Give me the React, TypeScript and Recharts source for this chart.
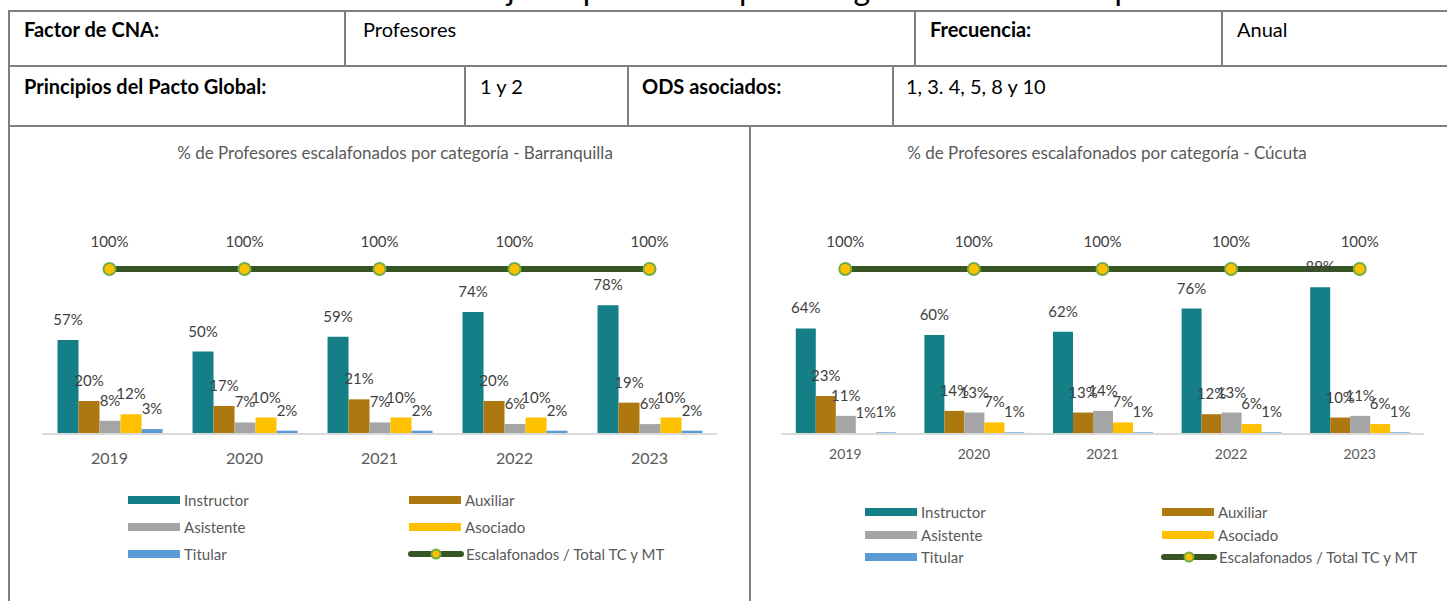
import { ComposedChart, Bar, Line, XAxis, YAxis, LabelList } from 'recharts';

const years = ['2019', '2020', '2021', '2022', '2023'];

// Barranquilla (%)
const baqInstructor = [57, 50, 59, 74, 78];
const baqAuxiliar = [20, 17, 21, 20, 19];
const baqAsistente = [8, 7, 7, 6, 6];
const baqAsociado = [12, 10, 10, 10, 10];
const baqTitular = [3, 2, 2, 2, 2];
const baqEscalafonados = [100, 100, 100, 100, 100];

// Cúcuta (%)
const cucInstructor = [64, 60, 62, 76, 89];
const cucAuxiliar = [23, 14, 13, 12, 10];
const cucAsistente = [11, 13, 14, 13, 11];
const cucAsociado = [0.6, 7, 7, 6, 6];
const cucTitular = [1, 1, 1, 1, 1];
const cucEscalafonados = [100, 100, 100, 100, 100];

const seriesNames = ['Instructor', 'Auxiliar', 'Asistente', 'Asociado', 'Titular'];
const lineName = 'Escalafonados / Total TC y MT';

const COLORS = {
  Instructor: '#157F87',
  Auxiliar: '#AE7811',
  Asistente: '#A5A5A5',
  Asociado: '#FFC000',
  Titular: '#5B9BD5',
};
const LINE_COLOR = '#375623';
const DOT_STROKE = '#70AD47';
const FONT = 'Lato, "Open Sans", sans-serif';
const BORDER = '#7F7F7F';

function buildData(cols: number[][], line: number[]) {
  return years.map((y, i) => ({
    year: y,
    Instructor: cols[0][i],
    Auxiliar: cols[1][i],
    Asistente: cols[2][i],
    Asociado: cols[3][i],
    Titular: cols[4][i],
    total: line[i],
  }));
}

const baqData = buildData([baqInstructor, baqAuxiliar, baqAsistente, baqAsociado, baqTitular], baqEscalafonados);
const cucData = buildData([cucInstructor, cucAuxiliar, cucAsistente, cucAsociado, cucTitular], cucEscalafonados);

const pct = (v: any) => `${Math.round(Number(v))}%`;

interface PanelProps {
  data: any[];
  left: number;
  width: number;
  margin: { top: number; right: number; bottom: number; left: number };
  tickSize: number;
  tickMargin: number;
}

function Panel({ data, left, width, margin, tickSize, tickMargin }: PanelProps) {
  return (
    <div style={{ position: 'absolute', left, top: 126 }}>
      <ComposedChart width={width} height={475} data={data} margin={margin} barCategoryGap="11.5%" barGap={0}>
        <XAxis
          dataKey="year"
          height={30}
          axisLine={{ stroke: '#D9D9D9', strokeWidth: 2 }}
          tickLine={false}
          tickSize={0}
          tickMargin={tickMargin}
          tick={{ fill: '#595959', fontSize: tickSize, fontFamily: FONT }}
        />
        <YAxis hide domain={[0, 140]} />
        {seriesNames.map((s) => (
          <Bar key={s} dataKey={s} fill={(COLORS as any)[s]} isAnimationActive={false}>
            <LabelList
              dataKey={s}
              position="top"
              offset={15}
              formatter={pct}
              style={{ fill: '#404040', fontSize: 15, fontFamily: FONT }}
            />
          </Bar>
        ))}
        <Line
          dataKey="total"
          type="linear"
          stroke={LINE_COLOR}
          strokeWidth={6}
          dot={{ r: 6, fill: '#FFC000', stroke: DOT_STROKE, strokeWidth: 2 }}
          activeDot={false}
          isAnimationActive={false}
        >
          <LabelList
            dataKey="total"
            position="top"
            offset={22}
            formatter={pct}
            style={{ fill: '#404040', fontSize: 15, fontFamily: FONT }}
          />
        </Line>
      </ComposedChart>
    </div>
  );
}

function LegendBlock({ x1, x2, rows }: { x1: number; x2: number; rows: number[] }) {
  const items = [
    { name: seriesNames[0], x: x1, y: rows[0] },
    { name: seriesNames[1], x: x2, y: rows[0] },
    { name: seriesNames[2], x: x1, y: rows[1] },
    { name: seriesNames[3], x: x2, y: rows[1] },
    { name: seriesNames[4], x: x1, y: rows[2] },
  ];
  const text = { position: 'absolute' as const, fontSize: 15, color: '#595959', fontFamily: FONT, lineHeight: '16px' };
  return (
    <>
      {items.map((it) => (
        <div key={it.name}>
          <div style={{ position: 'absolute', left: it.x, top: it.y - 4, width: 52, height: 8, background: (COLORS as any)[it.name] }} />
          <div style={{ ...text, left: it.x + 56, top: it.y - 8 }}>{it.name}</div>
        </div>
      ))}
      <svg style={{ position: 'absolute', left: x2 - 2, top: rows[2] - 8 }} width={58} height={16}>
        <line x1={4} y1={8} x2={54} y2={8} stroke={LINE_COLOR} strokeWidth={6} strokeLinecap="round" />
        <circle cx={29} cy={8} r={4.5} fill="#FFC000" stroke={DOT_STROKE} strokeWidth={2} />
      </svg>
      <div style={{ ...text, left: x2 + 57, top: rows[2] - 8 }}>{lineName}</div>
    </>
  );
}

export default function App() {
  const cell = { position: 'absolute' as const, fontSize: 20, color: '#000', fontFamily: FONT, lineHeight: '24px' };
  const vline = (x: number, y1: number, y2: number) => (
    <div style={{ position: 'absolute', left: x - 1, top: y1, width: 2, height: y2 - y1, background: BORDER }} />
  );
  const hline = (y: number, x1: number, x2: number) => (
    <div style={{ position: 'absolute', left: x1, top: y - 1, width: x2 - x1, height: 2, background: BORDER }} />
  );
  return (
    <div style={{ position: 'fixed', left: 0, top: 0, width: 1447, height: 601, background: '#fff', overflow: 'hidden', fontFamily: FONT }}>
      <div style={{ position: 'absolute', left: 0, width: 1447, top: -28, textAlign: 'center', fontSize: 32, lineHeight: '32px', color: '#000' }}>
        Indicador 11. Porcentaje de profesores por categoría de escalafón profesoral
      </div>

      {hline(11, 8, 1447)}
      {hline(66, 8, 1447)}
      {hline(126, 8, 1447)}
      {vline(9, 10, 601)}
      {vline(345, 10, 66)}
      {vline(915, 10, 66)}
      {vline(1222, 10, 66)}
      {vline(465, 66, 126)}
      {vline(628, 66, 126)}
      {vline(893, 66, 126)}
      {vline(750, 126, 601)}

      <div style={{ ...cell, left: 24, top: 17, fontWeight: 700 }}>Factor de CNA:</div>
      <div style={{ ...cell, left: 363, top: 17 }}>Profesores</div>
      <div style={{ ...cell, left: 930, top: 17, fontWeight: 700 }}>Frecuencia:</div>
      <div style={{ ...cell, left: 1237, top: 17 }}>Anual</div>
      <div style={{ ...cell, left: 24, top: 74, fontWeight: 700 }}>Principios del Pacto Global:</div>
      <div style={{ ...cell, left: 480, top: 74 }}>1 y 2</div>
      <div style={{ ...cell, left: 642, top: 74, fontWeight: 700 }}>ODS asociados:</div>
      <div style={{ ...cell, left: 906, top: 74 }}>1, 3. 4, 5, 8 y 10</div>

      <div style={{ position: 'absolute', left: 10, width: 770, top: 142, textAlign: 'center', fontSize: 17, color: '#595959' }}>
        % de Profesores escalafonados por categoría - Barranquilla
      </div>
      <div style={{ position: 'absolute', left: 751, width: 712, top: 142, textAlign: 'center', fontSize: 17, color: '#595959' }}>
        % de Profesores escalafonados por categoría - Cúcuta
      </div>

      <Panel data={baqData} left={10} width={740} margin={{ top: 77, right: 33, bottom: 137, left: 32 }} tickSize={16} tickMargin={19} />
      <Panel data={cucData} left={751} width={696} margin={{ top: 77, right: 23, bottom: 137, left: 30 }} tickSize={14} tickMargin={15} />

      <LegendBlock x1={128} x2={409} rows={[500, 527, 554]} />
      <LegendBlock x1={865} x2={1162} rows={[512, 535, 557]} />
    </div>
  );
}
